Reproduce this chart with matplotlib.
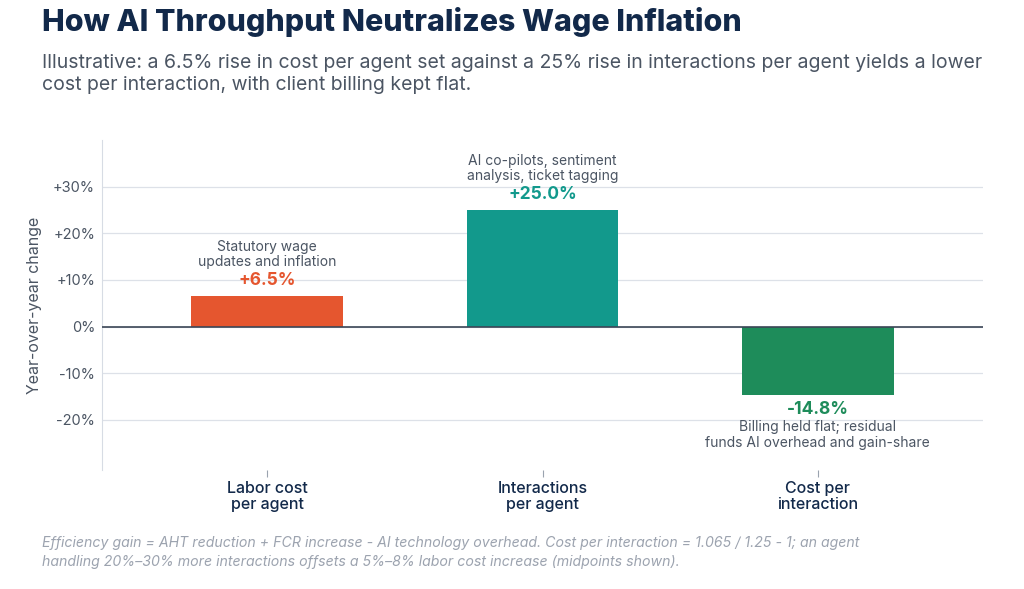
import matplotlib
matplotlib.use("Agg")
import matplotlib.pyplot as plt
from matplotlib.ticker import FuncFormatter

plt.rcParams["font.family"] = ["Inter", "DejaVu Sans"]

categories = ["Labor cost\nper agent", "Interactions\nper agent", "Cost per\ninteraction"]
values = [6.5, 25.0, -14.8]
notes = [
    "Statutory wage\nupdates and inflation",
    "AI co-pilots, sentiment\nanalysis, ticket tagging",
    "Billing held flat; residual\nfunds AI overhead and gain-share",
]
colors = ["#E5562F", "#12998C", "#1E8C5A"]
yticks = [-20, -10, 0, 10, 20, 30]

NAVY = "#12294A"
GREY = "#4B5563"

fig = plt.figure(figsize=(10.24, 5.89), dpi=100)
ax = fig.add_axes([0.0996, 0.202, 0.8604, 0.560])

x = range(len(categories))
ax.bar(x, values, width=0.55, color=colors, zorder=3)

for xi, v, note, c in zip(x, values, notes, colors):
    sign = 1 if v >= 0 else -1
    ax.annotate(f"{v:+.1f}%", (xi, v), xytext=(0, sign * (11.5 if v >= 0 else 10)),
                textcoords="offset points", ha="center", va="center",
                fontsize=12.5, fontweight="bold", color=c)
    ax.annotate(note, (xi, v), xytext=(0, sign * (30 if v >= 0 else 28.5)),
                textcoords="offset points", ha="center", va="center",
                fontsize=10, color=GREY, linespacing=1.15)

ax.set_xlim(-0.6, 2.6)
ax.set_ylim(-30.8, 40)
ax.set_yticks(yticks)
ax.yaxis.set_major_formatter(FuncFormatter(lambda v, p: "0%" if v == 0 else f"{v:+.0f}%"))
ax.set_xticks(list(x))
ax.set_xticklabels(categories, fontsize=11.5, fontweight="medium", color=NAVY, linespacing=1.05)
ax.tick_params(axis="y", labelsize=10.5, labelcolor=GREY, length=0, pad=5)
ax.tick_params(axis="x", length=5, color="#9AA3AF", pad=3)
ax.grid(axis="y", color="#DDE1E8", linewidth=0.9, zorder=0)
ax.axhline(0, color="#3B4656", linewidth=1.2, zorder=4)
for s in ["top", "right", "bottom"]:
    ax.spines[s].set_visible(False)
ax.spines["left"].set_color("#D7DCE4")
ax.set_ylabel("Year-over-year change", fontsize=11.5, color=GREY, labelpad=8)

fig.text(0.041, 0.962, "How AI Throughput Neutralizes Wage Inflation",
         fontsize=21.8, fontweight="heavy", color=NAVY, va="center")
fig.text(0.041, 0.874,
         "Illustrative: a 6.5% rise in cost per agent set against a 25% rise in interactions per agent yields a lower\n"
         "cost per interaction, with client billing kept flat.",
         fontsize=14, color=GREY, va="center", linespacing=1.3)
fig.text(0.041, 0.062,
         "Efficiency gain = AHT reduction + FCR increase - AI technology overhead. Cost per interaction = 1.065 / 1.25 - 1; an agent\n"
         "handling 20%\u201330% more interactions offsets a 5%\u20138% labor cost increase (midpoints shown).",
         fontsize=10.2, color="#9CA3AF", style="italic", va="center", linespacing=1.45)

fig.savefig("out.png", dpi=100)
